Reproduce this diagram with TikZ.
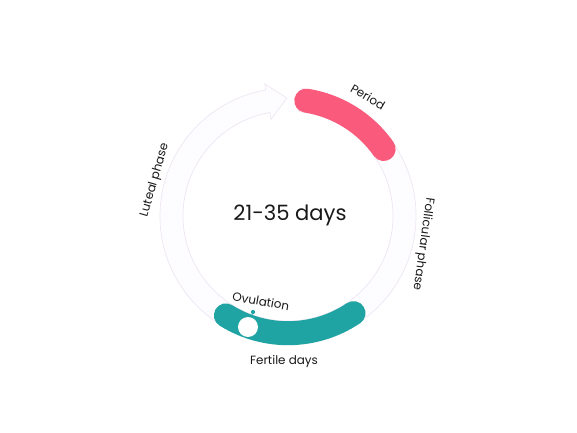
\documentclass[tikz,border=0pt]{standalone}
\usepackage{fontspec}
\setmainfont{Poppins}
\definecolor{periodpink}{HTML}{FA5A7C}
\definecolor{fertileteal}{HTML}{1FA3A3}
\definecolor{ringline}{HTML}{EFE6F3}
\definecolor{ringfill}{HTML}{FDFCFE}

\begin{document}
\begin{tikzpicture}[
    phase/.style={font=\fontsize{8.5}{10}\selectfont, text=black!90, inner sep=1pt},
    band/.style={line width=0.6cm, line cap=round}
  ]
  \useasboundingbox (-7.2,-5.425) rectangle (7.225,5.4);

  % ring with arrow head
  \draw[ringline, fill=ringfill, line width=0.5pt]
    (84:3.2) arc[start angle=84, end angle=-260, radius=3.2]
    -- (100:3.35) -- (90.5:2.95) -- (100:2.45) -- (100:2.625)
    arc[start angle=-260, end angle=84, radius=2.625] -- cycle;

  % coloured phases
  \draw[band, periodpink] (81:2.92) arc[start angle=81, end angle=35, radius=2.92];
  \draw[band, fertileteal] (238:2.93) arc[start angle=238, end angle=304, radius=2.93];

  \node[font=\fontsize{15}{18}\selectfont, text=black!90] (days) at (0.05,0.02) {21-35 days};

  \node[phase, rotate=-30] (period) at (2.0,2.975) {Period};
  \node[phase, rotate=-98] (follicular) at (3.375,-0.7) {Follicular phase};
  \node[phase, rotate=74] (luteal) at (-3.325,0.9) {Luteal phase};
  \node[phase] (fertile) at (-0.1,-3.625) {Fertile days};
  \node[phase, rotate=-10] (ovulation) at (-0.675,-2.125) {Ovulation};

  % ovulation marker
  \node[circle, fill=white, minimum size=0.5cm, inner sep=0pt] (ovum) at (-1.0,-2.775) {};
  \node[circle, fill=fertileteal, minimum size=3pt, inner sep=0pt] (pin) at (-0.875,-2.4) {};
  \draw[fertileteal, line width=0.6pt] (pin) -- (ovum);
\end{tikzpicture}
\end{document}
